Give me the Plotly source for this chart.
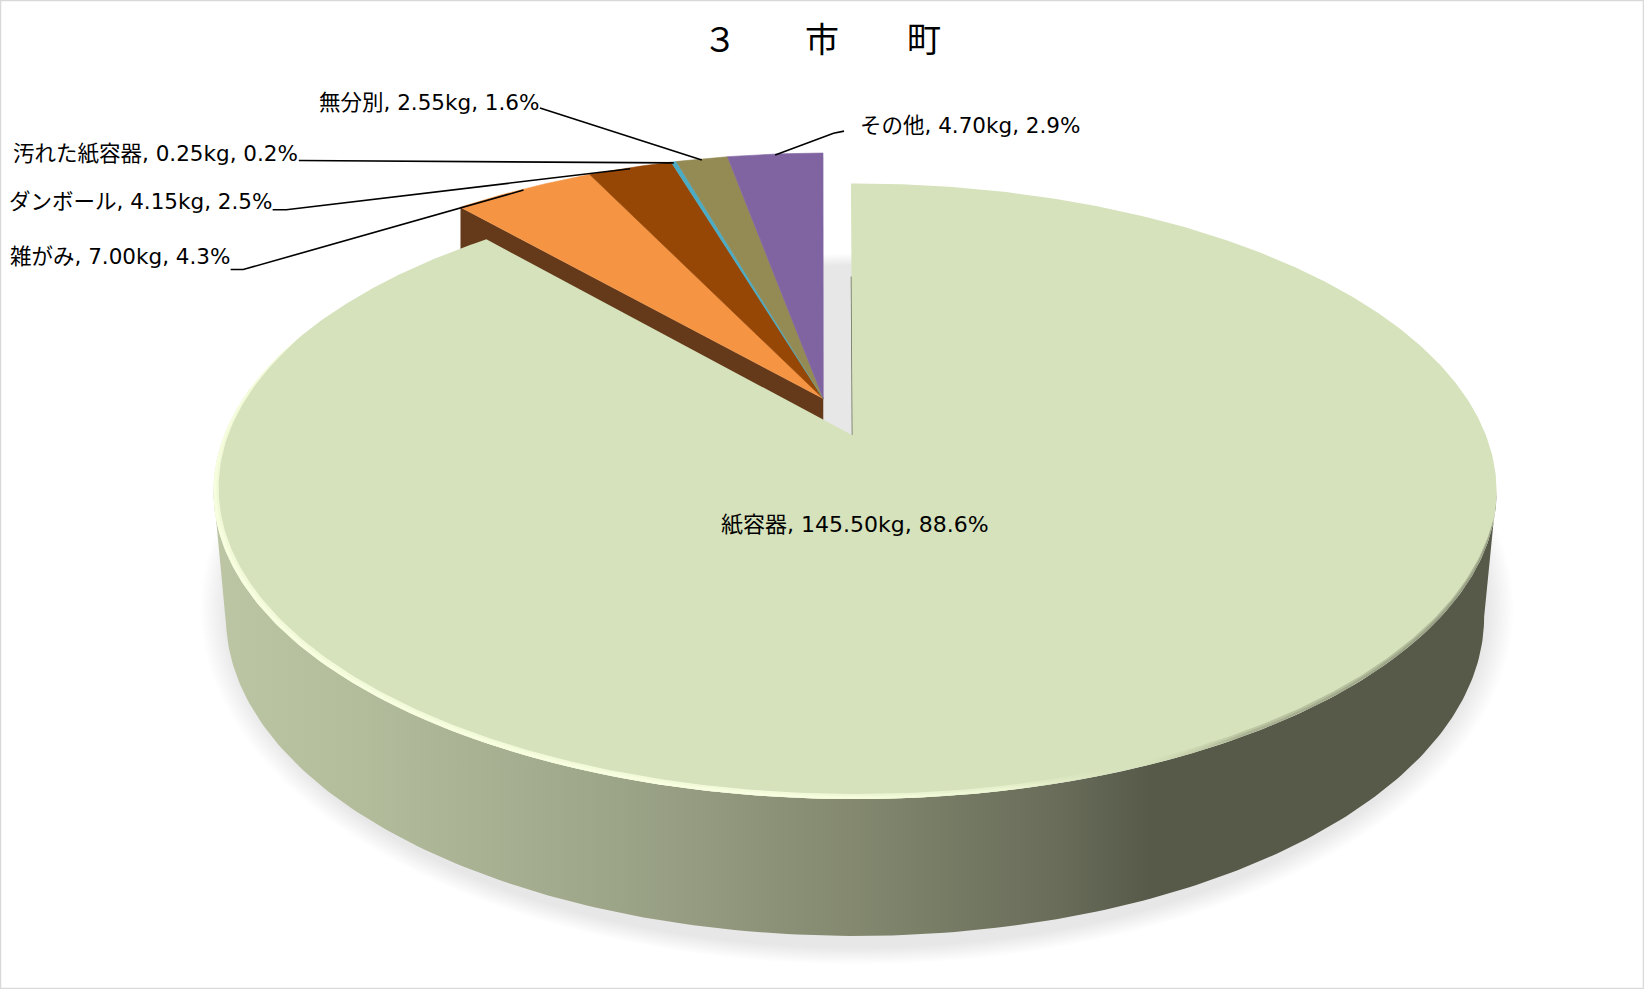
import numpy as np
import plotly.graph_objects as go

# ---- data ----
title_text = "３　　市　　町"
categories = ["紙容器", "雑がみ", "ダンボール", "汚れた紙容器", "無分別", "その他"]
values_kg = [145.50, 7.00, 4.15, 0.25, 2.55, 4.70]
percents = [88.6, 4.3, 2.5, 0.2, 1.6, 2.9]

# ---- styles ----
top_colors = ["#d6e2bb", "#f59544", "#964605", "#4bacc6", "#948a54", "#8064a2"]
cut_color = "#653a1b"
side_stops = [[0.0, "#bcc6a4"], [0.12, "#b2bc9b"], [0.32, "#9ca488"], [0.5, "#83886f"],
              [0.66, "#686c59"], [0.73, "#575a49"], [1.0, "#575a49"]]
FONT = "DejaVu Sans, Noto Sans CJK JP"
W, H = 1644, 989
AX_W, AX_H = 1568, 943

# ---- projection of the pie disc (perspective view) ----
k = 0.182
top_plane = dict(cx=815.5, cy=415.0, a=601.7, b=283.8)
floor_plane = dict(cx=815.5, cy=533.0, a=590.0, b=294.0)
shadow_plane = dict(cx=817.5, cy=519.0, a=590.0, b=314.0)
burst_u, burst_v, burst_r = -0.0515, 0.126, 1.02
burst_turn = -0.55      # slight rotation of the pulled-out group
main_u = -0.004
main_start_turn, main_end_turn = -0.44, -0.7


def project(u, v, plane=top_plane):
    d = 1 + k * v
    return plane["cx"] + plane["a"] * u / d, plane["cy"] - plane["b"] * v / d


def arc(t0, t1, r=1.0, u0=0.0, v0=0.0, plane=top_plane, n=None):
    n = n or max(3, int(abs(t1 - t0) * 2) + 2)
    t = np.radians(np.linspace(t0, t1, n))
    return project(u0 + r * np.sin(t), v0 + r * np.cos(t), plane)


def poly(fig, x, y, color, line=None):
    fig.add_trace(go.Scatter(x=np.asarray(x), y=np.asarray(y), mode="lines", fill="toself",
                             fillcolor=color, line=dict(width=0.6 if line else 0, color=line or color),
                             hoverinfo="skip", showlegend=False))


total = sum(values_kg)
angles = np.cumsum([0] + [v / total * 360 for v in values_kg])
fig = go.Figure()

# soft shadow under the disc
for i in range(12):
    grow = 1 + (12 - i) * 0.0036
    p = dict(shadow_plane, a=shadow_plane["a"] * grow, b=shadow_plane["b"] * grow)
    x, y = arc(0, 360, plane=p, n=200)
    poly(fig, x, y, "rgba(0,0,0,0.0085)")

# side wall of the large slice, with a left-to-right shade
t_tan = np.degrees(np.arccos(-k))
xa, ya = arc(t_tan, 360 - t_tan, n=200)
xb, yb = arc(360 - t_tan, t_tan, plane=floor_plane, n=200)
fig.add_trace(go.Scatter(x=np.r_[xa, xb], y=np.r_[ya, yb], mode="lines", fill="toself", line=dict(width=0),
                         fillgradient=dict(type="horizontal", colorscale=side_stops, start=204, stop=1427),
                         hoverinfo="skip", showlegend=False))

# cut wall of the pulled-out slices
ax0, ay0 = project(burst_u, burst_v)
lx, ly = arc(angles[1] + burst_turn, angles[1] + burst_turn, r=burst_r, u0=burst_u, v0=burst_v, n=1)
poly(fig, [ax0, lx[0], lx[0], ax0], [ay0, ly[0], ly[0] + 60, ay0 + 60], cut_color)

# top faces of the pulled-out slices
for i in range(1, len(categories)):
    x, y = arc(angles[i] + burst_turn, angles[i + 1] + burst_turn, r=burst_r, u0=burst_u, v0=burst_v)
    poly(fig, np.r_[ax0, x, ax0], np.r_[ay0, y, ay0], top_colors[i], line=top_colors[i])

# thin inner edge of the large slice at the gap
ex, ey = arc(main_start_turn, main_start_turn, n=1)
cx0, cy0 = project(main_u, 0)
fig.add_trace(go.Scatter(x=[ex[0] + (cx0 - ex[0]) * 0.37, cx0], y=[ey[0] + (cy0 - ey[0]) * 0.37, cy0], mode="lines",
                         line=dict(color="#6f735f", width=1.6), hoverinfo="skip", showlegend=False))

# top face of the large slice
x, y = arc(angles[0] + main_start_turn, angles[1] + main_end_turn)
poly(fig, np.r_[cx0, x, cx0], np.r_[cy0, y, cy0], top_colors[0])

# rim highlight, tapered at both ends
rim_stops = [[0.0, "rgba(248,255,224,0.8)"], [0.45, "rgba(248,255,224,0.85)"], [0.62, "rgba(240,249,214,0.6)"],
             [0.72, "rgba(214,226,187,0.1)"], [0.8, "rgba(130,135,110,0.3)"], [1.0, "rgba(110,115,95,0.4)"]]
for depth in (0.012, 0.0065):
    s = np.linspace(0, 1, 300)
    t = 105 + s * (290 - 105)
    ox, oy = arc(105, 290, n=300)
    rad = np.radians(t)
    r = 1 - depth * np.sin(np.pi * s) ** 0.6
    ix, iy = project(r * np.sin(rad), r * np.cos(rad))
    fig.add_trace(go.Scatter(x=np.r_[ox, ix[::-1]], y=np.r_[oy, iy[::-1]], mode="lines", fill="toself", line=dict(width=0),
                             fillgradient=dict(type="horizontal", colorscale=rim_stops, start=204, stop=1427),
                             hoverinfo="skip", showlegend=False))

# leader lines and labels
labels = [f"{c}, {v:.2f}kg, {p:.1f}%" for c, v, p in zip(categories, values_kg, percents)]
label_pos = {1: (221, 245, "right"), 2: (261, 192, "right"), 3: (286, 146, "right"), 4: (516, 98, "right"),
             5: (818, 120, "left"), 0: (815, 500, "center")}
label_size = {0: 22}
elbows = {1: [(220, 257), (232, 257)], 2: [(260, 200), (273, 200)], 3: [(285, 153)], 4: [(515, 103)],
          5: [(805, 125), (795, 127)]}
for i, pts in elbows.items():
    mid = (angles[i] + angles[i + 1]) / 2 + burst_turn
    sx, sy = arc(mid, mid, r=burst_r, u0=burst_u, v0=burst_v, n=1)
    fig.add_trace(go.Scatter(x=[p[0] for p in pts] + [sx[0]], y=[p[1] for p in pts] + [sy[0] + 1], mode="lines",
                             line=dict(color="#000000", width=1.6), hoverinfo="skip", showlegend=False))

annotations = []
for i, txt in enumerate(labels):
    px, py, anchor = label_pos[i]
    annotations.append(dict(x=px, y=py, text=txt, showarrow=False, xanchor=anchor, yanchor="middle",
                            font=dict(family=FONT, size=label_size.get(i, 21.5), color="#000000")))

fig.update_layout(
    width=W, height=H, margin=dict(l=0, r=0, t=0, b=0), paper_bgcolor="#ffffff", plot_bgcolor="#ffffff",
    showlegend=False, hovermode=False,
    title=dict(text=title_text, x=0.5, xanchor="center", y=0.959, yanchor="middle",
               font=dict(family=FONT, size=34, color="#000000")),
    xaxis=dict(range=[0, AX_W], visible=False, fixedrange=True),
    yaxis=dict(range=[AX_H, 0], visible=False, fixedrange=True),
    annotations=annotations,
    shapes=[dict(type="rect", xref="paper", yref="paper", x0=0, y0=0, x1=1, y1=1,
                 line=dict(color="#d9d9d9", width=2.5), fillcolor="rgba(0,0,0,0)")],
)

fig.write_html("out.html", config={"displayModeBar": False}, post_script="document.body.style.margin='0';")
